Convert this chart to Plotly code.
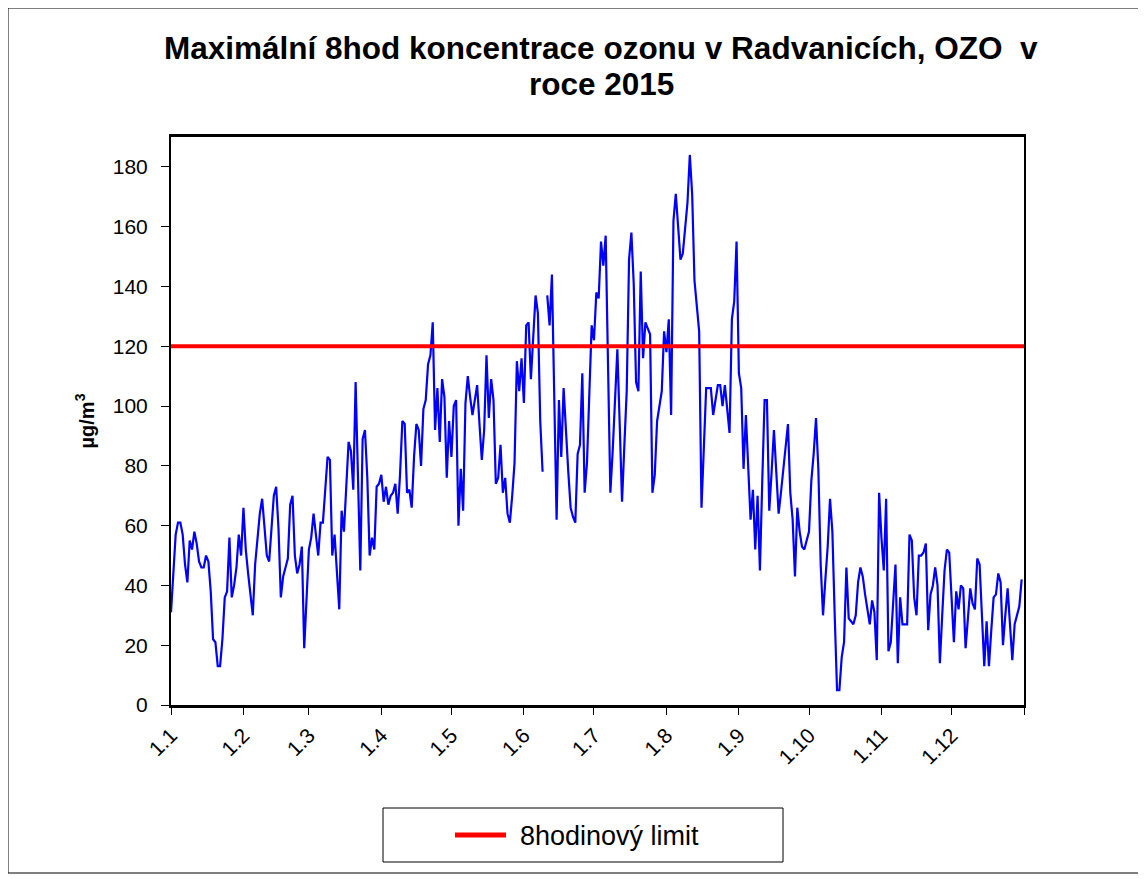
import pandas as pd
import plotly.graph_objects as go

# ---- data ----
start_date = "2015-01-01"
ozone_jan_feb = [31, 46, 57, 61, 61, 57, 47, 41, 55, 52, 58, 54, 48, 46, 46, 50, 48, 38, 22, 21,
                 13, 13, 22, 36, 38, 56, 36, 40, 46, 57, 50, 66, 52, 44, 36, 30, 47, 56, 64, 69,
                 58, 50, 48, 58, 70]
ozone_feb_mar = [73, 59, 36, 43, 46, 49, 67, 70, 50, 44, 47, 53, 19, 37, 52, 56, 64, 57, 50, 61,
                 61, 72, 83, 82, 50, 57, 46, 32, 65, 58, 73, 88, 85, 72, 108, 72, 45, 89, 92, 76,
                 50, 56, 52, 73, 74]
ozone_apr_may = [77, 68, 73, 67, 70, 71, 74, 64, 77, 95, 94, 71, 72, 66, 83, 94, 92, 80, 99, 102,
                 114, 117, 128, 92, 106, 88, 109, 103, 76, 95, 83, 100, 102, 60, 79, 65, 101, 110, 103, 97,
                 102, 107, 94, 82, 92]
ozone_may_jun = [117, 96, 109, 102, 74, 76, 87, 71, 76, 64, 61, 70, 81, 115, 105, 116, 101, 127, 128, 109,
                 123, 137, 131, 95, 78, None, 137, 127, 144, 103, 62, 102, 83, 106, 90, 78, 66, 63, 61, 84,
                 87]
ozone_jun_sep = [111, 71, 81, 104, 127, 122, 138, 136, 155, 147, 157, 114, 71, 85, 102, 119, 94, 68, 87, 105,
                 149, 158, 141, 108, 105, 145, 116, 128, 126, 124, 71, 77, 95, 100, 105, 125, 118, 129, 97, 162,
                 171, 160, 149, 151, 159, 168, 184, 171, 142, 132, 125, 66, 86, 106, 106, 106, 97, 102, 107, 107,
                 100, 107, 99, 91, 129, 135, 155, 111, 106, 79, 97, 80, 62, 72, 52, 70, 45, 75, 102, 102,
                 65, 78, 92, 78, 64, 71, 79, 86, 94, 71, 62]
ozone_sep_nov = [43, 66, 58, 53, 52, 55, 58, 75, 84, 96, 79, 47, 30, 42, 53, 69, 58, 30, 5, 5,
                 16, 21, 46, 29, 28, 27, 30, 41, 46, 43, 37, 32, 27, 35, 31, 15, 71, 56, 45, 69,
                 18, 21, 34, 47, 14, 36]
ozone_nov_dec = [27, 27, 27, 57, 55, 36, 30, 50, 50, 51, 54, 25, 37, 40, 46, 40, 14, 30, 45, 52,
                 51, 36, 21, 38, 32, 40, 39, 19, 29, 39, 34, 32, 49, 47, 30, 13, 28, 13, 25, 36,
                 37, 44, 41, 20, 30, 39, 27, 15, 27, 30, 33, 42]
limit_value = 120
limit_name = "8hodinový limit"
month_ticks = ["2015-%02d-01" % m for m in range(1, 13)] + ["2016-01-01"]
month_labels = ["1.%d" % m for m in range(1, 13)] + [""]
title_lines = ["Maximální 8hod koncentrace ozonu v Radvanicích, OZO  v", "roce 2015"]
y_title = "µg/m<sup>3</sup>"

ozone = (ozone_jan_feb + ozone_feb_mar + ozone_apr_may + ozone_may_jun
         + ozone_jun_sep + ozone_sep_nov + ozone_nov_dec)
dates = pd.date_range(start_date, periods=len(ozone), freq="D")

# ---- layout geometry (pixels in the reference picture; page has an 8px body margin) ----
OFF = 8
W, H = 1146 - OFF, 879 - OFF
L, R, T, B = 171 - OFF, 1024 - OFF, 137 - OFF, 705 - OFF
pw, ph = R - L, B - T


def px(x):
    return (x - OFF - L) / pw


def py(y):
    return (B - (y - OFF)) / ph


fig = go.Figure()
fig.add_trace(go.Scatter(x=dates, y=ozone, mode="lines", name="OZO",
                         line=dict(color="#0000FF", width=2.2), connectgaps=False,
                         showlegend=False))
fig.add_trace(go.Scatter(x=[month_ticks[0], month_ticks[-1]], y=[limit_value, limit_value],
                         mode="lines", name=limit_name,
                         line=dict(color="#FF0000", width=4), showlegend=False))

font_family = "Liberation Sans, Arial, sans-serif"

fig.update_layout(
    width=W, height=H,
    margin=dict(l=L, r=W - R, t=T, b=H - B, pad=0),
    paper_bgcolor="white", plot_bgcolor="white",
    font=dict(family=font_family, color="black", size=21),
    showlegend=False,
)
# chart title (two centred lines)
for line_text, y_pix in zip(title_lines, [48, 84]):
    fig.add_annotation(xref="paper", yref="paper", x=px(601), y=py(y_pix),
                       text="<b>" + line_text + "</b>", showarrow=False,
                       xanchor="center", yanchor="middle",
                       font=dict(size=31.5, family=font_family, color="black"))

fig.update_xaxes(
    type="date", range=[month_ticks[0], month_ticks[-1]],
    tickmode="array", tickvals=month_ticks, ticktext=month_labels,
    tickangle=-45, ticks="outside", ticklen=7, tickwidth=1, tickcolor="black",
    showline=True, linecolor="black", linewidth=2.5, mirror=True,
    showgrid=False, zeroline=False, tickfont=dict(size=21),
)
fig.update_yaxes(
    range=[0, 190], tickmode="array", tickvals=list(range(0, 181, 20)),
    ticks="outside", ticklen=8, tickwidth=1, tickcolor="black",
    ticklabelstandoff=9,
    showline=True, linecolor="black", linewidth=2, mirror=True,
    showgrid=False, zeroline=False, tickfont=dict(size=21),
    title=dict(text="<b>" + y_title + "</b>", font=dict(size=20), standoff=13),
)

# outer chart border
fig.add_shape(type="rect", xref="paper", yref="paper",
              x0=px(8), x1=px(1140), y0=py(873), y1=py(8),
              line=dict(color="black", width=1), fillcolor="rgba(0,0,0,0)", layer="below")
# legend box (drawn manually to mimic the original)
fig.add_shape(type="rect", xref="paper", yref="paper",
              x0=px(383), x1=px(783), y0=py(862), y1=py(808),
              line=dict(color="black", width=1), fillcolor="white")
fig.add_shape(type="line", xref="paper", yref="paper",
              x0=px(455), x1=px(506), y0=py(835), y1=py(835),
              line=dict(color="#FF0000", width=5))
fig.add_annotation(xref="paper", yref="paper", x=px(518), y=py(836),
                   text=limit_name, showarrow=False, xanchor="left", yanchor="middle",
                   font=dict(size=27, family=font_family, color="black"))

fig.write_html("out.html")
